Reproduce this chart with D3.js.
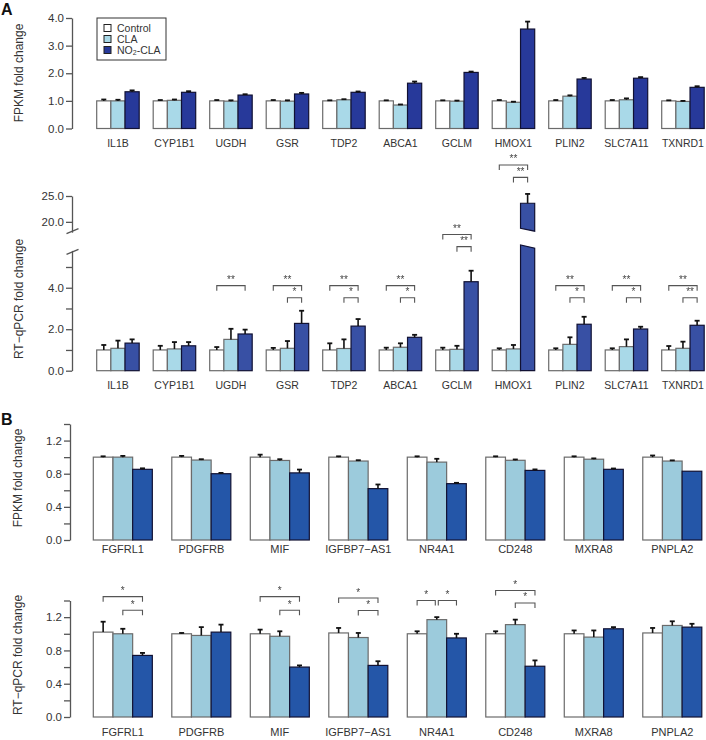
<!DOCTYPE html>
<html><head><meta charset="utf-8">
<script src="https://cdn.jsdelivr.net/npm/d3@7"></script>
<style>
html,body{margin:0;padding:0;background:#fff;}
svg{display:block;font-family:"Liberation Sans",Arial,sans-serif;}
.stars text{filter:grayscale(100%);}
</style></head>
<body><svg id="c" width="706" height="740"></svg>
<script>
// ---------------- DATA ----------------
const series = ["Control", "CLA", "NO2-CLA"];
const genesA = ["IL1B","CYP1B1","UGDH","GSR","TDP2","ABCA1","GCLM","HMOX1","PLIN2","SLC7A11","TXNRD1"];
// Panel A, FPKM fold change
const fpkmA_control = [1.0,1.0,1.0,1.0,1.0,1.0,1.0,1.0,1.0,1.0,1.0];
const fpkmA_cla     = [1.0,1.02,0.99,0.99,1.04,0.85,0.99,0.95,1.17,1.04,0.98];
const fpkmA_no2     = [1.33,1.31,1.21,1.25,1.31,1.64,2.03,3.6,1.79,1.82,1.49];
const fpkmA_control_err = [0.05,0.03,0.03,0.03,0.02,0.02,0.02,0.03,0.03,0.03,0.02];
const fpkmA_cla_err     = [0.04,0.03,0.03,0.03,0.02,0.02,0.02,0.02,0.03,0.05,0.02];
const fpkmA_no2_err     = [0.05,0.04,0.03,0.04,0.03,0.06,0.03,0.27,0.04,0.04,0.04];
// Panel A, RT-qPCR fold change
const qpcrA_control = [1.0,1.0,1.0,1.0,1.0,1.0,1.0,1.0,1.0,1.0,1.0];
const qpcrA_cla     = [1.08,1.05,1.51,1.08,1.07,1.13,1.03,1.05,1.27,1.16,1.08];
const qpcrA_no2     = [1.33,1.2,1.77,2.28,2.15,1.61,4.29,23.6,2.24,2.01,2.19];
const qpcrA_control_err = [0.24,0.2,0.14,0.1,0.32,0.11,0.11,0.08,0.08,0.08,0.19];
const qpcrA_cla_err     = [0.37,0.33,0.51,0.35,0.44,0.19,0.17,0.19,0.34,0.35,0.32];
const qpcrA_no2_err     = [0.18,0.18,0.21,0.61,0.34,0.12,0.53,1.8,0.36,0.11,0.22];
// significance brackets: gene, from series, to series, label, level (data units)
const sigA = [
  ["UGDH",0,2,"**",4.1],
  ["GSR",0,2,"**",4.1],["GSR",1,2,"*",3.52],
  ["TDP2",0,2,"**",4.1],["TDP2",1,2,"*",3.52],
  ["ABCA1",0,2,"**",4.1],["ABCA1",1,2,"*",3.52],
  ["GCLM",0,2,"**",6.57],["GCLM",1,2,"**",5.98],
  ["HMOX1",0,2,"**",31.0],["HMOX1",1,2,"**",28.6],
  ["PLIN2",0,2,"**",4.1],["PLIN2",1,2,"*",3.52],
  ["SLC7A11",0,2,"**",4.1],["SLC7A11",1,2,"*",3.52],
  ["TXNRD1",0,2,"**",4.1],["TXNRD1",1,2,"**",3.52]
];
const genesB = ["FGFRL1","PDGFRB","MIF","IGFBP7\u2212AS1","NR4A1","CD248","MXRA8","PNPLA2"];
// Panel B, FPKM fold change
const fpkmB_control = [1.0,1.0,1.0,1.0,1.0,1.0,1.0,1.0];
const fpkmB_cla     = [1.0,0.965,0.96,0.953,0.94,0.962,0.975,0.953];
const fpkmB_no2     = [0.853,0.8,0.81,0.62,0.68,0.84,0.853,0.83];
const fpkmB_control_err = [0.01,0.015,0.03,0.01,0.01,0.01,0.01,0.02];
const fpkmB_cla_err     = [0.015,0.01,0.015,0.01,0.04,0.01,0.01,0.008];
const fpkmB_no2_err     = [0.012,0.01,0.04,0.05,0.01,0.012,0.01,0.0];
// Panel B, RT-qPCR fold change
const qpcrB_control = [1.02,1.0,1.0,1.01,1.0,1.0,1.0,1.01];
const qpcrB_cla     = [1.0,0.98,0.97,0.955,1.17,1.11,0.96,1.1];
const qpcrB_no2     = [0.74,1.02,0.6,0.62,0.95,0.61,1.06,1.08];
const qpcrB_control_err = [0.125,0.01,0.05,0.06,0.03,0.03,0.04,0.06];
const qpcrB_cla_err     = [0.06,0.1,0.06,0.055,0.03,0.06,0.08,0.05];
const qpcrB_no2_err     = [0.03,0.09,0.02,0.05,0.05,0.07,0.02,0.04];
const sigB = [
  ["FGFRL1",0,2,"*",1.446],["FGFRL1",1,2,"*",1.282],
  ["MIF",0,2,"*",1.446],["MIF",1,2,"*",1.282],
  ["IGFBP7\u2212AS1",0,2,"*",1.43],["IGFBP7\u2212AS1",1,2,"*",1.28],
  ["NR4A1",0,1,"*",1.40],["NR4A1",1,2,"*",1.40],
  ["CD248",0,2,"*",1.52],["CD248",1,2,"*",1.37]
];
const ticksA1 = [0,1,2,3,4];
const ticksA2low = [0,1,2,3,4,5];
const ticksA2high = [20,25];
const ticksB = [0,0.2,0.4,0.6,0.8,1.0,1.2,1.4];
const labelTicksB = [0,0.4,0.8,1.2];

// ---------------- DRAW ----------------
const svg = d3.select("#c");
const colA = ["#ffffff","#a9d9e8","#27399a"];
const colA2 = ["#ffffff","#a9d9e8","#3850a4"];
const colB = ["#ffffff","#9ccbdc","#2456a8"];
const strokeCols = ["#6b6b6b","#6b6b6b","#111133"];
const axisCol = "#555";
const textCol = "#333";

function rows(ctrl, cla, no2, ec, el, en) {
  return ctrl.map((d,i)=>[ {v:ctrl[i],e:ec[i],s:0},{v:cla[i],e:el[i],s:1},{v:no2[i],e:en[i],s:2} ]);
}

function drawAxis(g, y, ticks, labeled, fmt, xAxis) {
  const ax = d3.axisLeft(y).tickValues(ticks).tickSize(6).tickSizeOuter(0)
    .tickFormat(d => labeled.some(l=>Math.abs(l-d)<1e-9) ? fmt(d) : "");
  const a = g.append("g").attr("transform",`translate(${xAxis},0)`).call(ax);
  a.select(".domain").attr("stroke",axisCol).attr("stroke-width",1.3);
  a.selectAll(".tick line").attr("stroke",axisCol).attr("stroke-width",1.3);
  a.selectAll(".tick text").attr("fill",textCol).attr("font-size",11.5)
    .attr("font-family","'Liberation Sans',Arial,sans-serif").attr("x",-8);
  return a;
}

function drawBars(g, genes, data, x, xi, yFn, cols) {
  const grp = g.selectAll(null).data(genes).enter().append("g")
    .attr("transform",d=>`translate(${x(d)},0)`);
  grp.each(function(gene, gi){
    const gg = d3.select(this);
    data[gi].forEach(b=>{
      const bx = xi(series[b.s]), bw = xi.bandwidth();
      const yt = yFn(b.v, gi, b.s, gg, bx, bw, cols);
      if (yt === null) return;
      if (b.e > 0) {
        const ye = yFn.err(b.v + b.e);
        const cx = bx + bw/2;
        gg.append("line").attr("x1",cx).attr("x2",cx).attr("y1",yt).attr("y2",ye)
          .attr("stroke","#111").attr("stroke-width",1.6);
        gg.append("line").attr("x1",cx-2.5).attr("x2",cx+2.5).attr("y1",ye).attr("y2",ye)
          .attr("stroke","#111").attr("stroke-width",1.8);
      }
    });
  });
}

function simpleY(y) {
  const f = function(v, gi, s, gg, bx, bw, cols) {
    gg.append("rect").attr("x",bx).attr("width",bw)
      .attr("y",y(v)).attr("height",y(0)-y(v))
      .attr("fill",cols[s]).attr("stroke",strokeCols[s]).attr("stroke-width",1.2);
    return y(v);
  };
  f.err = y;
  return f;
}

function drawLabels(g, genes, x, yPos, fs) {
  g.selectAll(null).data(genes).enter().append("text")
    .attr("x",d=>x(d)+x.bandwidth()/2).attr("y",yPos)
    .attr("text-anchor","middle").attr("font-size",fs).attr("fill",textCol).text(d=>d);
}

function yTitle(txt, cx, cy) {
  svg.append("text").attr("transform",`translate(${cx},${cy}) rotate(-90)`)
    .attr("text-anchor","middle").attr("font-size",12).attr("fill",textCol).text(txt);
}

function drawSig(g, sigs, x, xi, yFn) {
  const sg = g.append("g").attr("class","stars");
  sigs.forEach(([gene,a,b,lab,lvl])=>{
    const gx = x(gene);
    const shrink = (b-a===1 && a===0 && sigs.some(s=>s[0]===gene && s[1]===1 && s[2]===2 && Math.abs(s[4]-lvl)<1e-6)) ? 1.5 : 0;
    const shrink2 = (b-a===1 && a===1 && sigs.some(s=>s[0]===gene && s[1]===0 && s[2]===1 && Math.abs(s[4]-lvl)<1e-6)) ? 1.5 : 0;
    const x1 = gx + xi(series[a]) + xi.bandwidth()/2 + shrink2;
    const x2 = gx + xi(series[b]) + xi.bandwidth()/2 - shrink;
    const yy = yFn(lvl);
    sg.append("path").attr("d",`M${x1},${yy+5}V${yy}H${x2}V${yy+5}`)
      .attr("fill","none").attr("stroke","#555").attr("stroke-width",1.1);
    sg.append("text").attr("x",(x1+x2)/2).attr("y",yy-2.5).attr("text-anchor","middle")
      .attr("font-size",10).attr("fill","#444").text(lab);
  });
}

// ===== Panel A1 =====
const xA = d3.scaleBand().domain(genesA).range([96.7,704.2]).paddingInner(0.248).paddingOuter(0);
const xiA = d3.scaleBand().domain(series).range([0,xA.bandwidth()]);
const yA1 = d3.scaleLinear().domain([0,4]).range([128.5,18]);
const gA1 = svg.append("g");
drawAxis(gA1, yA1, ticksA1, ticksA1, d3.format(".1f"), 72);
drawBars(gA1, genesA, rows(fpkmA_control,fpkmA_cla,fpkmA_no2,fpkmA_control_err,fpkmA_cla_err,fpkmA_no2_err), xA, xiA, simpleY(yA1), colA);
drawLabels(gA1, genesA, xA, 147, 10.5);
yTitle("FPKM fold change", 23, 73);

// legend
const leg = svg.append("g");
leg.append("rect").attr("x",97).attr("y",18).attr("width",69).attr("height",42)
  .attr("fill","#fff").attr("stroke","#333").attr("stroke-width",1);
series.forEach((s,i)=>{
  const ly = 28 + i*11;
  leg.append("rect").attr("x",104).attr("y",ly-3.5).attr("width",7).attr("height",7)
    .attr("fill",colA[i]).attr("stroke","#222").attr("stroke-width",1);
  const t = leg.append("text").attr("x",117).attr("y",ly+4).attr("font-size",10.5).attr("fill",textCol);
  if (s === "NO2-CLA") {
    t.append("tspan").text("NO");
    t.append("tspan").attr("font-size",7).attr("dy",1).text("2");
    t.append("tspan").attr("dy",-1).text("-CLA");
  } else t.text(s);
});

// ===== Panel A2 (broken axis) =====
const lowMax = 5.8, highMin = 18;
const yA2lo = d3.scaleLinear().domain([0,lowMax]).range([370.7,250.4]);
const yA2hi = d3.scaleLinear().domain([highMin,25]).range([232.2,196]);
const gA2 = svg.append("g");
drawAxis(gA2, yA2lo, ticksA2low, [0,2,4], d3.format(".1f"), 72);
drawAxis(gA2, yA2hi, ticksA2high, ticksA2high, d3.format(".1f"), 72);
gA2.append("rect").attr("x",70).attr("y",yA2hi(highMin)+1).attr("width",5).attr("height",yA2lo(lowMax)-yA2hi(highMin)-2).attr("fill","#fff");
[yA2hi(highMin)-1, yA2lo(lowMax)+1.5].forEach(by=>{
  gA2.append("line").attr("x1",66.5).attr("x2",78.5).attr("y1",by+2.5).attr("y2",by-2.5)
    .attr("stroke",axisCol).attr("stroke-width",1.3);
});
const brokenY = function(v, gi, s, gg, bx, bw, cols) {
  if (v <= lowMax) {
    gg.append("rect").attr("x",bx).attr("width",bw).attr("y",yA2lo(v)).attr("height",yA2lo(0)-yA2lo(v))
      .attr("fill",cols[s]).attr("stroke",strokeCols[s]).attr("stroke-width",1.2);
    return yA2lo(v);
  }
  const lowCutL = 6.06, lowCutR = 5.91, hiCutL = 18.77, hiCutR = 18.2;
  gg.append("path").attr("d",
    `M${bx},${yA2lo(0)}L${bx},${yA2lo(lowCutL)}L${bx+bw},${yA2lo(lowCutR)}L${bx+bw},${yA2lo(0)}Z`)
    .attr("fill",cols[s]).attr("stroke",strokeCols[s]).attr("stroke-width",1.2);
  gg.append("path").attr("d",
    `M${bx},${yA2hi(v)}L${bx+bw},${yA2hi(v)}L${bx+bw},${yA2hi(hiCutR)}L${bx},${yA2hi(hiCutL)}Z`)
    .attr("fill",cols[s]).attr("stroke",strokeCols[s]).attr("stroke-width",1.2);
  return yA2hi(v);
};
brokenY.err = v => v > lowMax + 1.5 ? yA2hi(v) : yA2lo(v);
drawBars(gA2, genesA, rows(qpcrA_control,qpcrA_cla,qpcrA_no2,qpcrA_control_err,qpcrA_cla_err,qpcrA_no2_err), xA, xiA, brokenY, colA2);
drawSig(gA2, sigA, xA, xiA, v => v > 15 ? yA2hi(v) : yA2lo(v));
drawLabels(gA2, genesA, xA, 388.5, 10.5);
yTitle("RT\u2212qPCR fold change", 23, 299);

// ===== Panel B1 =====
const xB = d3.scaleBand().domain(genesB).range([93.3,701.8]).paddingInner(0.248).paddingOuter(0);
const xiB = d3.scaleBand().domain(series).range([0,xB.bandwidth()]);
const yB1 = d3.scaleLinear().domain([0,1.4]).range([540,424]);
const gB1 = svg.append("g");
drawAxis(gB1, yB1, ticksB, labelTicksB, d3.format(".1f"), 70);
drawBars(gB1, genesB, rows(fpkmB_control,fpkmB_cla,fpkmB_no2,fpkmB_control_err,fpkmB_cla_err,fpkmB_no2_err), xB, xiB, simpleY(yB1), colB);
drawLabels(gB1, genesB, xB, 552.5, 11);
yTitle("FPKM fold change", 22, 478);

// ===== Panel B2 =====
const yB2 = d3.scaleLinear().domain([0,1.4]).range([717,600.5]);
const gB2 = svg.append("g");
drawAxis(gB2, yB2, ticksB, labelTicksB, d3.format(".1f"), 70);
drawBars(gB2, genesB, rows(qpcrB_control,qpcrB_cla,qpcrB_no2,qpcrB_control_err,qpcrB_cla_err,qpcrB_no2_err), xB, xiB, simpleY(yB2), colB);
drawSig(gB2, sigB, xB, xiB, yB2);
drawLabels(gB2, genesB, xB, 736, 11);
yTitle("RT\u2212qPCR fold change", 22, 655);

// panel letters
svg.append("text").attr("x",1).attr("y",15).attr("font-size",16).attr("font-weight","bold").attr("fill","#111").text("A");
svg.append("text").attr("x",1).attr("y",425).attr("font-size",16).attr("font-weight","bold").attr("fill","#111").text("B");
</script></body></html>
